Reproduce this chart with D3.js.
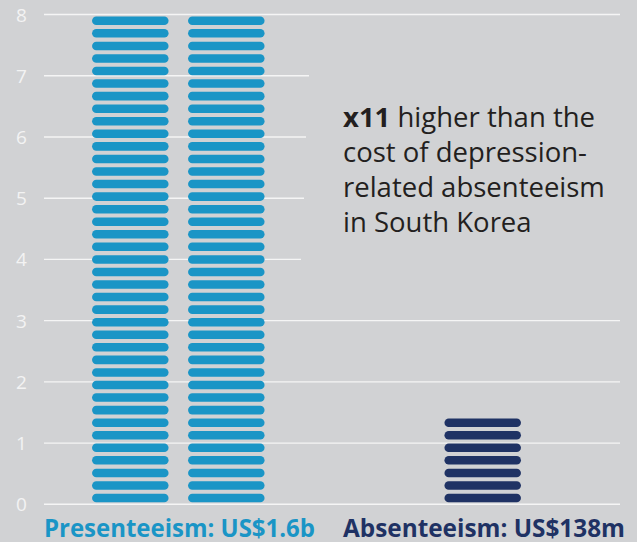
<!DOCTYPE html>
<html>
<head>
<meta charset="utf-8">
<script src="https://cdn.jsdelivr.net/npm/d3@7"></script>
<style>
  html, body { margin: 0; padding: 0; background: #d1d2d4; }
  svg { display: block; }
</style>
</head>
<body>
<svg id="chart" width="637" height="542"></svg>
<script>
// ---- data ----
const categories = ["Presenteeism", "Absenteeism"];
const categoryLabels = ["Presenteeism: US$1.6b", "Absenteeism: US$138m"];
const pillColumns = [[39, 39], [7]];          // pills per column, per category
const pillsPerFullScale = 39;                  // pills that reach the top of the axis
const yTicks = [0, 1, 2, 3, 4, 5, 6, 7, 8];
const annotationBold = "x11";
const annotationLines = [" higher than the", "cost of depression-", "related absenteeism", "in South Korea"];

// ---- layout / style ----
const yMax = 8;
const colors = ["#1a95c6", "#1f3264"];
const svg = d3.select("#chart");

const y = d3.scaleLinear().domain([0, yMax]).range([504.3, 14.5]);
const x = d3.scalePoint().domain(categories).range([178.3, 482.7]);
const colStep = 96, colWidth = 76.5;
const unit = yMax / pillsPerFullScale;

// gridlines (some are cut short by the annotation)
const gridEnd = {8: 620, 7: 309, 6: 306, 5: 304, 4: 301};
svg.append("g").selectAll("line").data(yTicks).join("line")
  .attr("x1", 44)
  .attr("x2", d => gridEnd[d] !== undefined ? gridEnd[d] : 620)
  .attr("y1", d => y(d)).attr("y2", d => y(d))
  .attr("stroke", "#f5f5f5").attr("stroke-width", 1.4);

// tick labels
svg.append("g").selectAll("text").data(yTicks).join("text")
  .attr("x", 21.5).attr("y", d => y(d))
  .attr("text-anchor", "middle").attr("dominant-baseline", "central")
  .attr("font-family", "'Open Sans', sans-serif").attr("font-size", 19)
  .attr("fill", "#f3f3f3")
  .text(d => d);

// pills
const band = y(0) - y(unit);
const pillH = band * 0.68;
categories.forEach((cat, ci) => {
  const cols = pillColumns[ci];
  cols.forEach((n, j) => {
    const cx = x(cat) + (j - (cols.length - 1) / 2) * colStep;
    const g = svg.append("g");
    g.selectAll("rect").data(d3.range(n)).join("rect")
      .attr("x", cx - colWidth / 2)
      .attr("width", colWidth)
      .attr("y", i => (y((i + 1) * unit) + y(i * unit)) / 2 - pillH / 2)
      .attr("height", pillH)
      .attr("rx", pillH / 2).attr("ry", pillH / 2)
      .attr("fill", colors[ci]);
  });
});

// category labels
const labelStarts = [44, 343];
const labelWidths = [271, 282];
categories.forEach((cat, ci) => {
  svg.append("text")
    .attr("x", labelStarts[ci]).attr("y", 536.5)
    .attr("font-family", "'Open Sans', sans-serif")
    .attr("font-weight", "bold").attr("font-size", 25)
    .attr("textLength", labelWidths[ci]).attr("lengthAdjust", "spacingAndGlyphs")
    .attr("fill", colors[ci])
    .text(categoryLabels[ci]);
});

// annotation
const ann = svg.append("g").attr("font-family", "'Open Sans', sans-serif")
  .attr("fill", "#231f20");
let fs = 26;
ann.attr("font-size", fs);
const lineH = 34.9;
annotationLines.forEach((line, i) => {
  const t = ann.append("text").attr("x", 343).attr("y", 127.3 + i * lineH);
  if (i === 0) t.append("tspan").attr("font-weight", "bold").text(annotationBold);
  t.append("tspan").text(line);
});
// fit width of the widest line to the reference (~262px)
const widths = ann.selectAll("text").nodes().map(n => n.getComputedTextLength());
const maxW = d3.max(widths);
if (maxW > 0) ann.attr("font-size", fs * 262 / maxW);
</script>
</body>
</html>
